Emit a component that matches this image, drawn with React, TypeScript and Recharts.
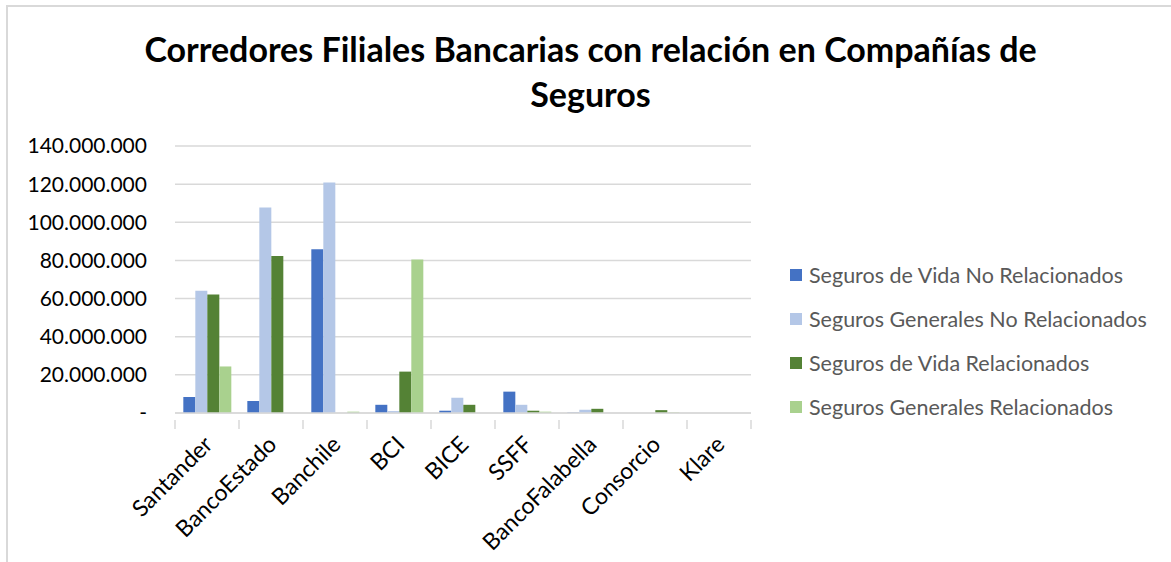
import { BarChart, Bar, XAxis, YAxis, CartesianGrid } from 'recharts'

const CATEGORIES = ['Santander', 'BancoEstado', 'Banchile', 'BCI', 'BICE', 'SSFF', 'BancoFalabella', 'Consorcio', 'Klare']
const VIDA_NO_REL = [8400000, 6300000, 85800000, 4300000, 1200000, 11200000, 200000, 0, 0]
const GEN_NO_REL = [64100000, 107700000, 120900000, 1000000, 8000000, 4300000, 1700000, 0, 0]
const VIDA_REL = [62200000, 82300000, 0, 21700000, 4300000, 1200000, 2200000, 1500000, 0]
const GEN_REL = [24400000, 0, 700000, 80500000, 0, 700000, 0, 300000, 0]
const Y_TICKS = [0, 20000000, 40000000, 60000000, 80000000, 100000000, 120000000, 140000000]

const SERIES = [
  { key: 'vidaNoRel', name: 'Seguros de Vida No Relacionados', color: '#4472C4' },
  { key: 'genNoRel', name: 'Seguros Generales No Relacionados', color: '#B4C7E7' },
  { key: 'vidaRel', name: 'Seguros de Vida Relacionados', color: '#548235' },
  { key: 'genRel', name: 'Seguros Generales Relacionados', color: '#A9D18E' },
]

const data = CATEGORIES.map((name, i) => ({
  name,
  vidaNoRel: VIDA_NO_REL[i],
  genNoRel: GEN_NO_REL[i],
  vidaRel: VIDA_REL[i],
  genRel: GEN_REL[i],
}))

const FONT = 'Lato, "Open Sans", sans-serif'
const W = 1171
const H = 562
const BAND = 64

function fmt(v: number) {
  if (v === 0) return '-'
  return String(v).replace(/\B(?=(\d{3})+(?!\d))/g, '.')
}

function CategoryTick(props: any) {
  const { x, y, payload, index } = props
  const last = index === CATEGORIES.length - 1
  const tx = x + 7
  const ty = y + 25
  return (
    <g>
      <line x1={x - BAND / 2} x2={x - BAND / 2} y1={y - 1} y2={y + 8} stroke="#d9d9d9" strokeWidth={1.5} />
      {last && <line x1={x + BAND / 2} x2={x + BAND / 2} y1={y - 1} y2={y + 8} stroke="#d9d9d9" strokeWidth={1.5} />}
      <text
        x={tx}
        y={ty}
        transform={`rotate(-45 ${tx} ${ty})`}
        textAnchor="end"
        fontSize={23}
        fontFamily={FONT}
        fill="#000"
      >
        {payload.value}
      </text>
    </g>
  )
}

export default function App() {
  return (
    <div style={{ position: 'absolute', left: 0, top: 0, width: W, height: H, background: '#fff' }}>
      <div
        style={{
          position: 'absolute', left: 6, top: 5, width: W - 6, height: H - 5,
          borderTop: '2px solid #d9d9d9', borderLeft: '2px solid #d9d9d9',
        }}
      />
      <div
        style={{
          position: 'absolute', left: 0, top: 26, width: 1181, textAlign: 'center',
          fontFamily: FONT, fontWeight: 700, fontSize: 34, lineHeight: '45px', color: '#000',
        }}
      >
        Corredores Filiales Bancarias con relación en Compañías de
        <br />
        Seguros
      </div>
      <div style={{ position: 'absolute', left: 790, top: 253, fontFamily: FONT }}>
        {SERIES.map((s) => (
          <div key={s.key} style={{ display: 'flex', alignItems: 'center', height: 44 }}>
            <span style={{ width: 12, height: 12, background: s.color, marginRight: 7, display: 'inline-block' }} />
            <span style={{ fontSize: 21.5, color: '#595959' }}>{s.name}</span>
          </div>
        ))}
      </div>
      <BarChart
        width={W}
        height={H}
        data={data}
        margin={{ top: 146, right: 420, bottom: 0, left: 0 }}
        barCategoryGap="13%"
        barGap={0}
        style={{ position: 'absolute', left: 0, top: 0 }}
      >
        <CartesianGrid vertical={false} stroke="#d9d9d9" strokeWidth={1.5} />
        <XAxis
          dataKey="name"
          interval={0}
          tickLine={false}
          axisLine={{ stroke: '#d9d9d9', strokeWidth: 1.5 }}
          tick={<CategoryTick />}
          height={149}
        />
        <YAxis
          width={175}
          domain={[0, 140000000]}
          ticks={Y_TICKS}
          tickFormatter={fmt}
          axisLine={false}
          tickLine={false}
          tickSize={0}
          tickMargin={28}
          tick={{ fontSize: 21, fill: '#000', fontFamily: FONT }}
        />
        {SERIES.map((s) => (
          <Bar key={s.key} dataKey={s.key} name={s.name} fill={s.color} isAnimationActive={false} />
        ))}
      </BarChart>
    </div>
  )
}
